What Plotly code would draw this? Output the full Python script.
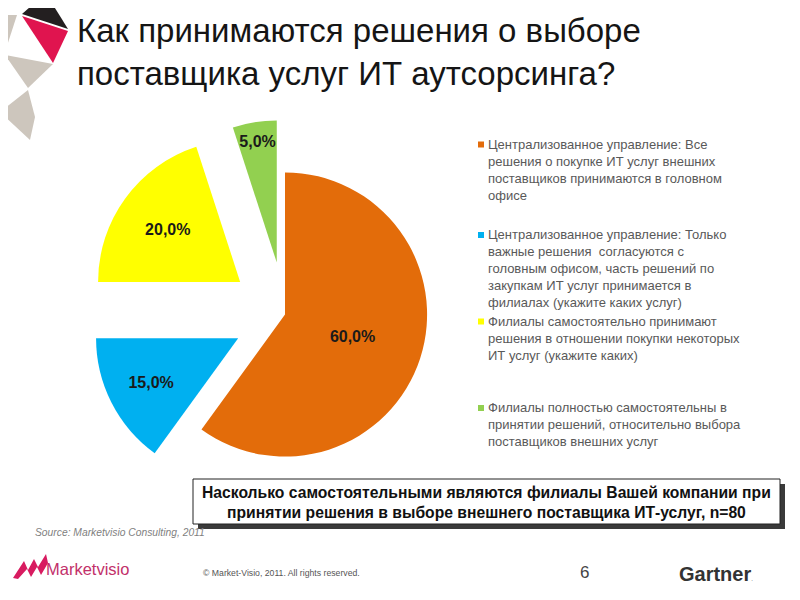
import plotly.graph_objects as go

W, H = 800, 600
OFF = 8  # page body margin: the figure is drawn 8px right/down of the window origin

LABELS = [
    "Централизованное управление: Все<br>решения о покупке ИТ услуг внешних<br>поставщиков принимаются в головном<br>офисе",
    "Централизованное управление: Только<br>важные решения  согласуются с<br>головным офисом, часть решений по<br>закупкам ИТ услуг принимается в<br>филиалах (укажите каких услуг)",
    "Филиалы самостоятельно принимают<br>решения в отношении покупки некоторых<br>ИТ услуг (укажите каких)",
    "Филиалы полностью самостоятельны в<br>принятии решений, относительно выбора<br>поставщиков внешних услуг",
]
SHARES = [60, 15, 20, 5]
COLORS = ["#E36C0A", "#00B0F0", "#FFFF00", "#92D050"]
PULL = [0, 0.37, 0.39, 0.37]

TITLE = "Как принимаются решения о выборе<br>поставщика услуг ИТ аутсорсинга?"
QUESTION = ("Насколько самостоятельными являются филиалы Вашей компании при<br>"
            "принятии решения в выборе внешнего поставщика ИТ-услуг, n=80")
SOURCE = "Source: Marketvisio Consulting, 2011"

GREY = "#595959"
FONT = "Liberation Sans, Arial, sans-serif"


def px(x):
    return (x - OFF) / W


def py(y):
    return 1 - (y - OFF) / H


fig = go.Figure()

fig.add_trace(go.Pie(
    labels=[l.split("<br>")[0] for l in LABELS],
    values=SHARES,
    marker=dict(colors=COLORS, line=dict(width=0)),
    pull=PULL,
    sort=False,
    direction="clockwise",
    rotation=0,
    texttemplate="<b>%{percent:.1%}</b>",
    textposition="inside",
    insidetextorientation="horizontal",
    textfont=dict(size=16, color="#1a1a1a", family=FONT),
    domain=dict(x=[px(87.5), px(482.5)], y=[py(512), py(117)]),
    showlegend=False,
    hoverinfo="skip",
))

# legend drawn by hand: one wrapped text block per item
LEG_Y = [144.5, 235, 321.5, 408]
ann = []
shapes = []
for lab, col, y0 in zip(LABELS, COLORS, LEG_Y):
    shapes.append(dict(type="rect", xref="paper", yref="paper",
                       x0=px(478), x1=px(484), y0=py(y0 + 3), y1=py(y0 - 3),
                       fillcolor=col, line=dict(width=0)))
    ann.append(dict(text=lab, x=px(486), y=py(y0 - 10), align="left",
                    xref="paper", yref="paper", xanchor="left", yanchor="top",
                    showarrow=False, font=dict(size=13, color=GREY, family=FONT)))

# title
ann.append(dict(text=TITLE, x=px(75), y=py(52), xref="paper", yref="paper",
                xanchor="left", yanchor="middle", align="left", showarrow=False,
                font=dict(size=33, color="#151515", family=FONT)))

# question box with shadow
shapes.append(dict(type="rect", xref="paper", yref="paper",
                   x0=px(198), x1=px(785), y0=py(529), y1=py(484),
                   fillcolor="#3a3a3a", line=dict(width=0)))
shapes.append(dict(type="rect", xref="paper", yref="paper",
                   x0=px(193), x1=px(780), y0=py(524), y1=py(479),
                   fillcolor="white", line=dict(color="#222222", width=1)))
ann.append(dict(text="<b>" + QUESTION + "</b>", x=px(486), y=py(502),
                xref="paper", yref="paper", xanchor="center", yanchor="middle",
                showarrow=False, font=dict(size=15.7, color="#111111", family=FONT)))

ann.append(dict(text="<i>" + SOURCE + "</i>", x=px(33), y=py(532),
                xref="paper", yref="paper", xanchor="left", yanchor="middle",
                showarrow=False, font=dict(size=10.3, color="#7f7f7f", family=FONT)))

# footer
ann.append(dict(text="Marketvisio", x=px(44), y=py(569), xref="paper", yref="paper",
                xanchor="left", yanchor="middle", showarrow=False,
                font=dict(size=16.5, color="#c2306a", family=FONT)))
ann.append(dict(text="© Market-Visio, 2011. All rights reserved.", x=px(201), y=py(573),
                xref="paper", yref="paper", xanchor="left", yanchor="middle",
                showarrow=False, font=dict(size=8.7, color="#555555", family=FONT)))
ann.append(dict(text="6", x=px(584), y=py(572), xref="paper", yref="paper",
                xanchor="center", yanchor="middle", showarrow=False,
                font=dict(size=17, color="#444444", family=FONT)))
ann.append(dict(text="<b>Gartner</b><span style='font-size:6px'>.</span>", x=px(677),
                y=py(574), xref="paper", yref="paper", xanchor="left", yanchor="middle",
                showarrow=False, font=dict(size=20, color="#333333", family=FONT)))

# logo zigzag
ZZ = [(13, 578), (24, 561), (28, 570), (34, 559), (38, 567), (46, 554),
      (48, 563), (41, 575), (37, 567), (31, 577), (27, 569), (18, 579)]
shapes.append(dict(type="path", xref="paper", yref="paper",
                   path="M " + " L ".join(f"{px(x)} {py(y)}" for x, y in ZZ) + " Z",
                   fillcolor="#d81b60", line=dict(width=0)))


# corner decoration triangles
def tri(pts, col):
    d = "M " + " L ".join(f"{px(x)} {py(y)}" for x, y in pts) + " Z"
    return dict(type="path", xref="paper", yref="paper", path=d,
                fillcolor=col, line=dict(width=0))


shapes += [
    tri([(22, 14), (38, 0), (50, 0), (68, 29)], "#231f20"),
    tri([(22, 16), (68, 31), (53, 63)], "#e0144f"),
    tri([(0, 15), (17, 15), (5, 52)], "#cdc6bd"),
    tri([(5, 55), (53, 64), (28, 88)], "#cdc6bd"),
    tri([(0, 112), (28, 90), (35, 117), (30, 140)], "#cdc6bd"),
]

fig.update_layout(
    width=W, height=H,
    margin=dict(l=0, r=0, t=0, b=0),
    paper_bgcolor="white",
    separators=", ",
    uniformtext=dict(minsize=16, mode="show"),
    annotations=ann,
    shapes=shapes,
    font=dict(family=FONT),
)

fig.write_html("out.html")
